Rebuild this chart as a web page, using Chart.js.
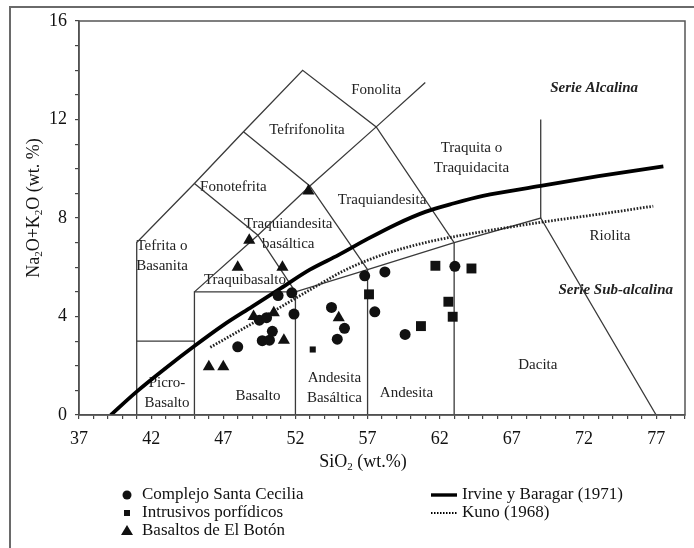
<!DOCTYPE html>
<html><head><meta charset="utf-8">
<script src="https://cdn.jsdelivr.net/npm/chart.js@4/dist/chart.umd.min.js"></script>
<style>html,body{margin:0;padding:0;background:#fff;}#wrap{width:694px;height:548px;}</style>
</head><body><div id="wrap"><canvas id="c" width="694" height="548"></canvas></div>
<script>
// ---- tick labels ----
const xTickLabels = [37,42,47,52,57,62,67,72,77];
const yTickLabels = [0,4,8,12,16];

// ---- sample data (SiO2 wt.%, Na2O+K2O wt.%) ----
const santaCeciliaSiO2 = [48.0,49.7,50.2,50.4,49.5,50.0,50.8,51.75,51.9,54.5,55.4,54.9,56.8,58.2,57.5,59.6,63.05];
const santaCeciliaAlk  = [2.77,3.02,3.04,3.4,3.85,3.95,4.85,4.96,4.1,4.37,3.52,3.08,5.65,5.81,4.19,3.27,6.04];
const intrusivosSiO2 = [53.2,57.1,60.7,61.7,64.2,62.6,62.9];
const intrusivosAlk  = [2.66,4.9,3.61,6.06,5.95,4.6,3.99];
const botonSiO2 = [52.9,48.8,48.0,51.1,49.1,50.5,51.2,46.0,47.0,55.0];
const botonAlk  = [9.1,7.1,6.0,6.0,4.0,4.15,3.04,1.96,1.96,3.95];

// ---- dividing curves ----
const irvineSiO2 = [39.2,41,43,45,47,49,51,53,55,57,59,61,63,65,69,73,77.5];
const irvineAlk  = [0,0.95,1.9,2.8,3.65,4.4,5.15,5.9,6.5,7.15,7.75,8.25,8.6,8.9,9.3,9.7,10.1];
const kunoSiO2 = [46.1,50,53.5,55.5,58,61,65,69.3,73,76.8];
const kunoAlk  = [2.75,4.05,5.25,5.9,6.5,7.0,7.45,7.85,8.15,8.48];

// ---- TAS field boundaries (SiO2, alkalis) ----
const fieldOutline = [[41,0],[41,7],[45,9.4],[48.4,11.5],[52.5,14],[57.6,11.7],[63,7],[63,0]];
const picroTop     = [[41,3],[45,3]];
const subalkTop    = [[45,0],[45,5],[52,5],[57,5.9],[63,7],[69,8],[77,0]];
const basaltRight  = [[52,0],[52,5]];
const basAndRight  = [[57,0],[57,5.9]];
const trachyDiag   = [[45,5],[49.4,7.3],[53,9.3],[57.6,11.7],[61,13.5]];
const tephriteRight= [[45,9.4],[49.4,7.3],[52,5]];
const phonotephRight=[[48.4,11.5],[53,9.3],[57,5.9]];
const rhyoliteLeft = [[69,8],[69,12]];
const boundaries = [fieldOutline,picroTop,subalkTop,basaltRight,basAndRight,trachyDiag,tephriteRight,phonotephRight,rhyoliteLeft];

// ---- field labels ----
const fieldLabels = [
  {t:['Fonolita'], x:57.6, y:13.2},
  {t:['Tefrifonolita'], x:52.8, y:11.56},
  {t:['Fonotefrita'], x:47.7, y:9.25},
  {t:['Traquiandesita'], x:58.0, y:8.72},
  {t:['Traquiandesita','basáltica'], x:51.5, y:7.35},
  {t:['Tefrita o','Basanita'], x:42.75, y:6.45},
  {t:['Traquibasalto'], x:48.5, y:5.48},
  {t:['Traquita o','Traquidacita'], x:64.2, y:10.42},
  {t:['Riolita'], x:73.8, y:7.26},
  {t:['Dacita'], x:68.8, y:2.03},
  {t:['Andesita'], x:59.7, y:0.9},
  {t:['Andesita','Basáltica'], x:54.7, y:1.1},
  {t:['Basalto'], x:49.4, y:0.77},
  {t:['Picro-','Basalto'], x:43.1, y:0.88},
  {t:['Serie Alcalina'], x:72.7, y:13.27, bold:true},
  {t:['Serie Sub-alcalina'], x:74.2, y:5.07, bold:true}
];

const zip = (xs, ys) => xs.map((x,i)=>({x, y: ys[i]}));
const pts = arr => arr.map(p=>({x:p[0], y:p[1]}));
const SERIF = '"Liberation Serif", "Times New Roman", serif';

const datasets = [
  {label:'Complejo Santa Cecilia', data: zip(santaCeciliaSiO2, santaCeciliaAlk), pointStyle:'circle', pointRadius:5.5, backgroundColor:'#111', borderColor:'#111', borderWidth:0, showLine:false},
  {label:'Intrusivos porfídicos', data: zip(intrusivosSiO2, intrusivosAlk), pointStyle:'rect', pointRadius: c => c.dataIndex===0 ? 4.3 : 7, backgroundColor:'#111', borderColor:'#111', borderWidth:0, showLine:false},
  {label:'Basaltos de El Botón', data: zip(botonSiO2, botonAlk), pointStyle:'triangle', pointRadius:7, backgroundColor:'#111', borderColor:'#111', borderWidth:0, showLine:false},
  {label:'Irvine y Baragar (1971)', data: zip(irvineSiO2, irvineAlk), showLine:true, pointRadius:0, borderColor:'#000', borderWidth:3.8, tension:0.4, cubicInterpolationMode:'monotone', fill:false},
  {label:'Kuno (1968)', data: zip(kunoSiO2, kunoAlk), showLine:true, pointRadius:0, borderColor:'#222', borderWidth:2.8, borderDash:[1.6,1.6], borderCapStyle:'butt', tension:0.4, cubicInterpolationMode:'monotone', fill:false}
];
boundaries.forEach((b,i)=>datasets.push({label:'field'+i, data: pts(b), showLine:true, pointRadius:0, borderColor:'#3a3a3a', borderWidth:1.3, tension:0, fill:false}));

function drawRich(ctx, parts, cx, cy, size){
  let w = 0;
  parts.forEach(p=>{ ctx.font = (p.sub? Math.round(size*0.62):size)+'px '+SERIF; w += ctx.measureText(p.t).width; });
  let x = cx - w/2;
  ctx.textAlign='left'; ctx.textBaseline='middle';
  parts.forEach(p=>{ ctx.font = (p.sub? Math.round(size*0.62):size)+'px '+SERIF; ctx.fillText(p.t, x, cy + (p.sub? size*0.28:0)); x += ctx.measureText(p.t).width; });
}

const decor = {
  id:'decor',
  beforeDraw(chart){
    const ctx = chart.ctx; ctx.save();
    ctx.fillStyle='#fff'; ctx.fillRect(0,0,chart.width,chart.height);
    ctx.strokeStyle='#6a6a6a'; ctx.lineWidth=2; ctx.strokeRect(10,7,800,800);
    ctx.restore();
  },
  beforeDatasetsDraw(chart){
    const ctx = chart.ctx, xs = chart.scales.x, ys = chart.scales.y;
    ctx.save(); ctx.fillStyle='#222'; ctx.textAlign='center'; ctx.textBaseline='middle';
    fieldLabels.forEach(l=>{
      ctx.font = (l.bold ? 'italic bold ' : '') + '15px ' + SERIF;
      const px = xs.getPixelForValue(l.x), py = ys.getPixelForValue(l.y);
      const n = l.t.length, lh = 20;
      l.t.forEach((s,i)=>ctx.fillText(s, px, py + (i-(n-1)/2)*lh));
    });
    ctx.restore();
  },
  afterDraw(chart){
    const ctx = chart.ctx, a = chart.chartArea;
    ctx.save();
    ctx.strokeStyle='#555'; ctx.lineWidth=1.5;
    ctx.strokeRect(a.left, a.top, a.right-a.left, a.bottom-a.top);
    ctx.fillStyle='#111';
    // axis titles
    drawRich(ctx, [{t:'SiO'},{t:'2',sub:true},{t:' (wt.%)'}], 363, 462, 18);
    ctx.save(); ctx.translate(34, 208); ctx.rotate(-Math.PI/2);
    drawRich(ctx, [{t:'Na'},{t:'2',sub:true},{t:'O+K'},{t:'2',sub:true},{t:'O (wt. %)'}], 0, 0, 18);
    ctx.restore();
    // legend
    const rows = [495, 513, 531];
    ctx.font = '17px '+SERIF; ctx.textAlign='left'; ctx.textBaseline='middle';
    const mx = 127, tx = 142;
    ctx.beginPath(); ctx.arc(mx, rows[0], 4.5, 0, Math.PI*2); ctx.fill();
    ctx.fillRect(mx-3, rows[1]-3, 6, 6);
    ctx.beginPath(); ctx.moveTo(mx, rows[2]-6); ctx.lineTo(mx+6, rows[2]+4); ctx.lineTo(mx-6, rows[2]+4); ctx.closePath(); ctx.fill();
    ctx.fillText(datasets[0].label, tx, rows[0]);
    ctx.fillText(datasets[1].label, tx, rows[1]);
    ctx.fillText(datasets[2].label, tx, rows[2]);
    const lx0 = 431, lx1 = 457, ltx = 462;
    ctx.strokeStyle='#000'; ctx.lineWidth=3.4; ctx.beginPath(); ctx.moveTo(lx0, rows[0]); ctx.lineTo(lx1, rows[0]); ctx.stroke();
    ctx.lineWidth=2.2; ctx.setLineDash([1.5,1.5]); ctx.beginPath(); ctx.moveTo(lx0, rows[1]); ctx.lineTo(lx1, rows[1]); ctx.stroke(); ctx.setLineDash([]);
    ctx.fillText(datasets[3].label, ltx, rows[0]);
    ctx.fillText(datasets[4].label, ltx, rows[1]);
    ctx.restore();
  }
};

new Chart(document.getElementById('c'), {
  type:'scatter',
  data:{datasets},
  options:{
    responsive:false, animation:false, devicePixelRatio:1,
    layout:{padding:{left:0, top:21, right:3.3, bottom:93}},
    plugins:{legend:{display:false}, tooltip:{enabled:false}},
    scales:{
      x:{type:'linear', min:37, max:79,
        afterFit(s){ s.height = 40; },
        border:{display:true, color:'#444', width:1.5},
        grid:{drawOnChartArea:false, drawTicks:true, tickLength:4, color:'#444', lineWidth:1.2},
        ticks:{stepSize:1, autoSkip:false, maxRotation:0, padding:9, color:'#111', font:{family:SERIF, size:18},
          callback:v => xTickLabels.includes(v) ? String(v) : ''}},
      y:{type:'linear', min:0, max:16,
        afterFit(s){ s.width = 79; },
        border:{display:true, color:'#444', width:1.5},
        grid:{drawOnChartArea:false, drawTicks:true, tickLength:4, color:'#444', lineWidth:1.2},
        ticks:{stepSize:1, autoSkip:false, padding:8, color:'#111', font:{family:SERIF, size:18},
          callback:v => yTickLabels.includes(v) ? String(v) : ''}}
    }
  },
  plugins:[decor]
});
</script>
</body></html>
